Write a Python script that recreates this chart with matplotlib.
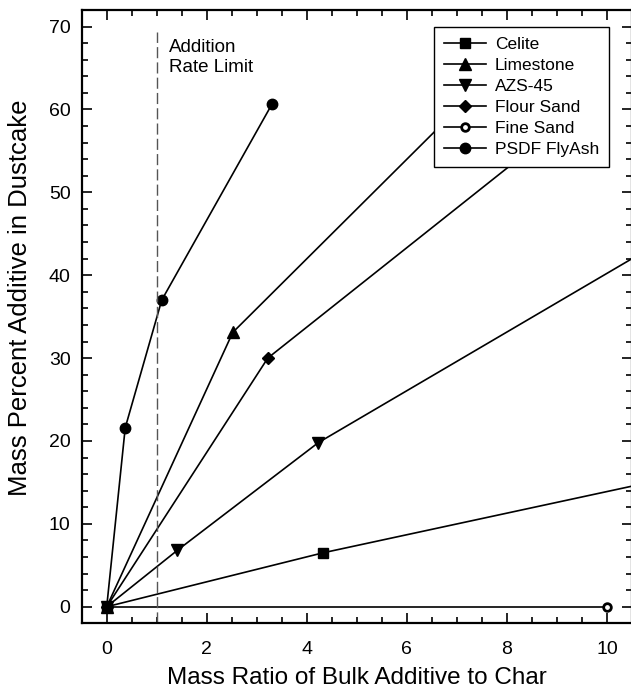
import matplotlib
matplotlib.use("Agg")
import matplotlib.pyplot as plt
from matplotlib.ticker import MultipleLocator

plt.rcParams['font.family'] = ['Liberation Sans', 'DejaVu Sans']

# data
celite_x = [0, 4.32, 12.0]
celite_y = [0, 6.5, 16.5]
limestone_x = [0, 2.52, 7.5]
limestone_y = [0, 33.1, 63.0]
azs_x = [0, 1.41, 4.23, 12.0]
azs_y = [0, 6.8, 19.8, 47.3]
flour_x = [0, 3.22, 9.0]
flour_y = [0, 30.0, 57.7]
fine_x = [0, 10]
fine_y = [0, 0]
psdf_x = [0, 0.37, 1.1, 3.3]
psdf_y = [0, 21.6, 37.0, 60.6]
rate_limit = 1.0

fig = plt.figure(figsize=(6.31, 6.98), dpi=100)
ax = fig.add_axes([0.1295, 0.107, 0.872, 0.8787])

lw = 1.2
ax.plot(celite_x, celite_y, 'k-', lw=lw, marker='s', ms=6.5, label='Celite')
ax.plot(limestone_x, limestone_y, 'k-', lw=lw, marker='^', ms=8, label='Limestone')
ax.plot(azs_x, azs_y, 'k-', lw=lw, marker='v', ms=8, label='AZS-45')
ax.plot(flour_x, flour_y, 'k-', lw=lw, marker='D', ms=6.5, label='Flour Sand')
ax.plot(fine_x, fine_y, 'k-', lw=lw, marker='o', ms=5.5, mfc='white', mew=2, label='Fine Sand')
ax.plot(psdf_x, psdf_y, 'k-', lw=lw, marker='o', ms=7.5, label='PSDF FlyAsh')

ax.plot([rate_limit, rate_limit], [-2, 69.3], color='#555555', lw=1, dashes=(8, 3))
ax.text(1.25, 68.5, 'Addition\nRate Limit', fontsize=13.5, ha='left', va='top', linespacing=1.2)

ax.set_xlim(-0.5, 10.5)
ax.set_ylim(-2, 72)
ax.xaxis.set_major_locator(MultipleLocator(2))
ax.xaxis.set_minor_locator(MultipleLocator(0.5))
ax.yaxis.set_major_locator(MultipleLocator(10))
ax.yaxis.set_minor_locator(MultipleLocator(2))
ax.tick_params(which='both', direction='in', top=True, right=True, width=1.2)
ax.tick_params(which='major', length=7.5, labelsize=14)
ax.tick_params(axis='x', which='major', pad=13)
ax.tick_params(axis='y', which='major', pad=8)
ax.tick_params(which='minor', length=4.5)
for s in ax.spines.values():
    s.set_linewidth(1.6)

ax.set_xlabel('Mass Ratio of Bulk Additive to Char', fontsize=17.5)
ax.set_ylabel('Mass Percent Additive in Dustcake', fontsize=18.5)
ax.xaxis.set_label_coords(0.5, -0.072)
ax.yaxis.set_label_coords(-0.09, 0.53)

leg = ax.legend(loc='upper left', bbox_to_anchor=(434 / 631, 1 - 26.7 / 698),
                bbox_transform=fig.transFigure, fontsize=12.5, frameon=True,
                fancybox=False, edgecolor='black', framealpha=1,
                handlelength=2.4, handletextpad=0.5, labelspacing=0.33,
                borderpad=0.6, borderaxespad=0)
leg.get_frame().set_linewidth(1.0)
leg.set_zorder(5)

fig.savefig('out.png', dpi=100)
